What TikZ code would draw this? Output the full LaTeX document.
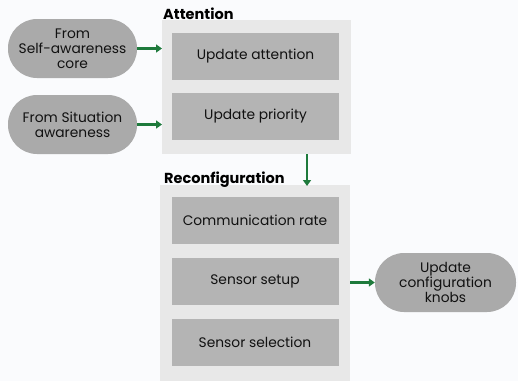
\documentclass[tikz,border=0pt]{standalone}
\usepackage{fontspec}
\setmainfont{Poppins}
\usetikzlibrary{arrows.meta}
\definecolor{bgc}{HTML}{FAFBFD}
\definecolor{panelc}{HTML}{E8E8E8}
\definecolor{boxc}{HTML}{B4B4B4}
\definecolor{pillc}{HTML}{AAAAAA}
\definecolor{arrc}{HTML}{1E7A3C}
\definecolor{txtc}{HTML}{111111}
\tikzset{
  panel/.style={fill=panelc, draw=none, anchor=north west, inner sep=0pt},
  stepbox/.style={fill=boxc, draw=none, minimum width=167pt, minimum height=47pt, font=\fontsize{13.8}{15}\selectfont, text=txtc},
  pill/.style={fill=pillc, draw=none, rounded corners=29pt, minimum height=59pt, align=center, font=\fontsize{13.8}{15}\selectfont, text=txtc, inner sep=1pt},
  ptitle/.style={anchor=base west, font=\bfseries\fontsize{14.5}{15}\selectfont, text=black, inner sep=0pt},
  flow/.style={draw=arrc, line width=2.2pt, -{Triangle[length=6pt,width=8pt]}}
}
\begin{document}
\begin{tikzpicture}[x=1pt,y=-1pt]
\useasboundingbox (0,0) rectangle (518,381);
\fill[bgc] (0,0) rectangle (518,381);
% panels
\node[panel, minimum width=189pt, minimum height=134pt] (attp) at (162,20) {};
\node[panel, minimum width=190pt, minimum height=196pt] (recp) at (160,185) {};
\node[ptitle] (attt) at (163,19) {Attention};
\node[ptitle] (rect) at (164,183) {Reconfiguration};
% boxes
\node[stepbox] (ua) at (255.5,56.5) {Update attention};
\node[stepbox] (up) at (255.5,116.5) {Update priority};
\node[stepbox] (cr) at (255,220) {Communication rate};
\node[stepbox] (ss) at (255,281.5) {Sensor setup};
\node[stepbox] (sl) at (255,342) {Sensor selection};
% pills
\node[pill, minimum width=129pt] (sa) at (72.5,48.5) {From\\Self-awareness\\core};
\node[pill, minimum width=129pt] (sit) at (72.5,124.5) {From Situation\\awareness};
\node[pill, minimum width=141pt] (knob) at (445.5,282.5) {Update\\configuration\\knobs};
% arrows
\draw[flow] (sa.east) -- (sa.east -| attp.west);
\draw[flow] (sit.east) -- (sit.east -| attp.west);
\coordinate (dtop) at (307,154);
\coordinate (dbot) at (307,186);
\draw[flow] (dtop) -- (dbot);
\draw[flow] (knob.west -| recp.east) -- (knob.west);
\end{tikzpicture}
\end{document}
